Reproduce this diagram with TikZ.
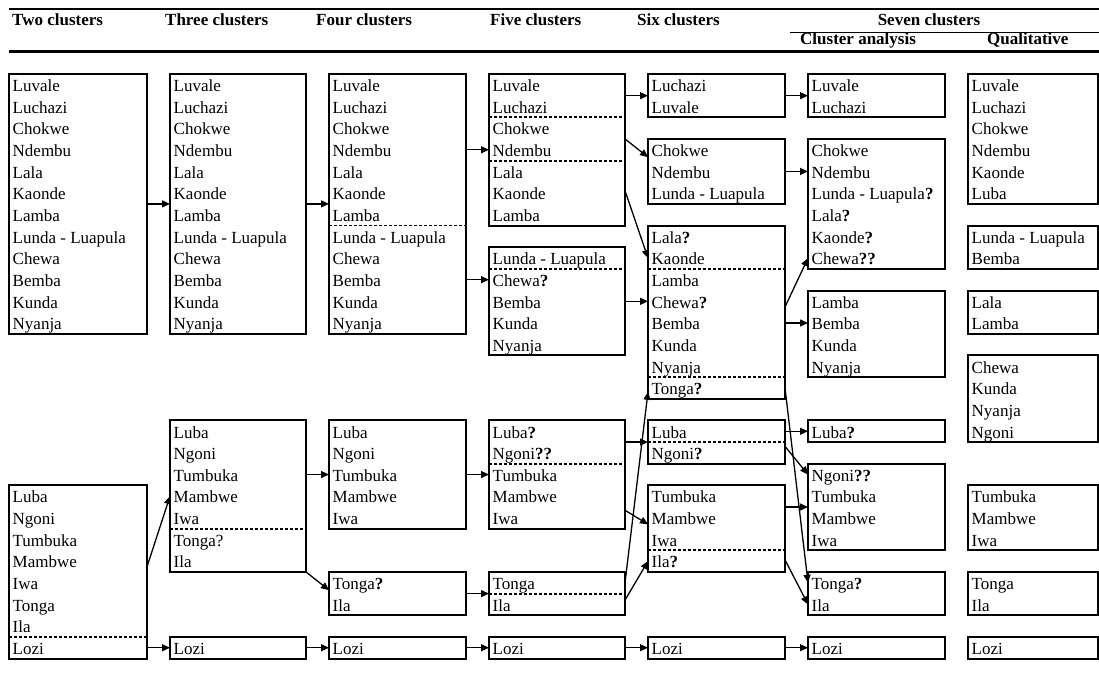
\documentclass[tikz,border=0pt]{standalone}
\usepackage{fontspec}
\setmainfont{Liberation Serif}
\usetikzlibrary{arrows.meta,calc}
\tikzset{
  cbox/.style={draw, line width=2pt, rectangle, inner sep=0pt, outer sep=0pt},
  lbl/.style={anchor=base west, inner sep=0pt, font=\fontsize{17}{20}\selectfont},
  sepline/.style={line width=1.8pt, dash pattern=on 3pt off 2pt},
  arr/.style={line width=1.3pt, -{Triangle[length=8pt,width=7pt]}},
  hdr/.style={inner sep=0pt, font=\fontsize{17}{20}\selectfont\bfseries},
  hrule/.style={line width=2pt},
}
\newcommand\RH{21.65}
\newcommand\qm{\textbf{?}}
\newcommand\mkbox[6]{%
  \node[cbox, minimum width=#3pt, minimum height={\RH pt*#5}, anchor=north west] (#1) at (#2,{74+\RH*#4}) {};
  \foreach \t [count=\i from 0] in {#6}{%
    \coordinate (#1r\i) at (#2,{74+\RH*(#4+\i+0.5)});
    \node[lbl] (#1t\i) at ({#2+3.5},{74+\RH*(#4+\i+0.5)+6.8}) {\t};
  }}
\newcommand\mkdash[2]{\draw[sepline] ($(#1.north west)+(0,{\RH*#2})$) -- ($(#1.north east)+(0,{\RH*#2})$);}
\begin{document}
\begin{tikzpicture}[x=1pt,y=-1pt]
\useasboundingbox (0,0) rectangle (1099,677);
% header
\draw[hrule] (9,9.5) -- (1099,9.5);
\draw[line width=2.5pt] (9,51.5) -- (1099,51.5);
\draw[line width=1.5pt] (790,32.5) -- (1099,32.5);
\node[hdr, anchor=base west] (h2) at (12,26) {Two clusters};
\node[hdr, anchor=base west] (h3) at (165,26) {Three clusters};
\node[hdr, anchor=base west] (h4) at (316,26) {Four clusters};
\node[hdr, anchor=base west] (h5) at (490,26) {Five clusters};
\node[hdr, anchor=base west] (h6) at (637,26) {Six clusters};
\node[hdr, anchor=base] (h7) at (929,26) {Seven clusters};
\node[hdr, anchor=base west] (h7a) at (800,44.5) {Cluster analysis};
\node[hdr, anchor=base west] (h7b) at (987,44.5) {Qualitative};
% column 1
\mkbox{A1}{9}{138}{0}{12}{Luvale,Luchazi,Chokwe,Ndembu,Lala,Kaonde,Lamba,Lunda - Luapula,Chewa,Bemba,Kunda,Nyanja}
\mkbox{A2}{9}{138}{19}{8}{Luba,Ngoni,Tumbuka,Mambwe,Iwa,Tonga,Ila,Lozi}
\mkdash{A2}{7}
% column 2
\mkbox{B1}{170}{136}{0}{12}{Luvale,Luchazi,Chokwe,Ndembu,Lala,Kaonde,Lamba,Lunda - Luapula,Chewa,Bemba,Kunda,Nyanja}
\mkbox{B2}{170}{136}{16}{7}{Luba,Ngoni,Tumbuka,Mambwe,Iwa,Tonga?,Ila}
\mkdash{B2}{5}
\mkbox{B3}{170}{136}{26}{1}{Lozi}
% column 3
\mkbox{C1}{329}{137}{0}{12}{Luvale,Luchazi,Chokwe,Ndembu,Lala,Kaonde,Lamba,Lunda - Luapula,Chewa,Bemba,Kunda,Nyanja}
\mkdash{C1}{7}
\mkbox{C2}{329}{137}{16}{5}{Luba,Ngoni,Tumbuka,Mambwe,Iwa}
\mkbox{C3}{329}{137}{23}{2}{Tonga\qm,Ila}
\mkbox{C4}{329}{137}{26}{1}{Lozi}
% column 4
\mkbox{D1}{489}{136}{0}{7}{Luvale,Luchazi,Chokwe,Ndembu,Lala,Kaonde,Lamba}
\mkdash{D1}{2}
\mkdash{D1}{4}
\mkbox{D2}{489}{136}{8}{5}{Lunda - Luapula,Chewa\qm,Bemba,Kunda,Nyanja}
\mkdash{D2}{1}
\mkbox{D3}{489}{136}{16}{5}{Luba\qm,Ngoni\qm\qm,Tumbuka,Mambwe,Iwa}
\mkdash{D3}{2}
\mkbox{D4}{489}{136}{23}{2}{Tonga,Ila}
\mkdash{D4}{1}
\mkbox{D5}{489}{136}{26}{1}{Lozi}
% column 5
\mkbox{E1}{648}{137}{0}{2}{Luchazi,Luvale}
\mkbox{E2}{648}{137}{3}{3}{Chokwe,Ndembu,Lunda - Luapula}
\mkbox{E3}{648}{137}{7}{8}{Lala\qm,Kaonde,Lamba,Chewa\qm,Bemba,Kunda,Nyanja,Tonga\qm}
\mkdash{E3}{2}
\mkdash{E3}{7}
\mkbox{E4}{648}{137}{16}{2}{Luba,Ngoni\qm}
\mkdash{E4}{1}
\mkbox{E5}{648}{137}{19}{4}{Tumbuka,Mambwe,Iwa,Ila\qm}
\mkdash{E5}{3}
\mkbox{E6}{648}{137}{26}{1}{Lozi}
% column 6
\mkbox{F1}{808}{137}{0}{2}{Luvale,Luchazi}
\mkbox{F2}{808}{137}{3}{6}{Chokwe,Ndembu,Lunda - Luapula\qm,Lala\qm,Kaonde\qm,Chewa\qm\qm}
\mkbox{F3}{808}{137}{10}{4}{Lamba,Bemba,Kunda,Nyanja}
\mkbox{F4}{808}{137}{16}{1}{Luba\qm}
\mkbox{F5}{808}{137}{18}{4}{Ngoni\qm\qm,Tumbuka,Mambwe,Iwa}
\mkbox{F6}{808}{137}{23}{2}{Tonga\qm,Ila}
\mkbox{F7}{808}{137}{26}{1}{Lozi}
% column 7
\mkbox{G1}{968}{130}{0}{6}{Luvale,Luchazi,Chokwe,Ndembu,Kaonde,Luba}
\mkbox{G2}{968}{130}{7}{2}{Lunda - Luapula,Bemba}
\mkbox{G3}{968}{130}{10}{2}{Lala,Lamba}
\mkbox{G4}{968}{130}{13}{4}{Chewa,Kunda,Nyanja,Ngoni}
\mkbox{G5}{968}{130}{19}{3}{Tumbuka,Mambwe,Iwa}
\mkbox{G6}{968}{130}{23}{2}{Tonga,Ila}
\mkbox{G7}{968}{130}{26}{1}{Lozi}
% arrows A -> B
\draw[arr] (A1.east) -- (B1.west);
\draw[arr] ($(A2.north east)!0.47!(A2.south east)$) -- (B2r3);
\draw[arr] (A2.east |- B3.west) -- (B3.west);
% B -> C
\draw[arr] (B1.east) -- (C1.west);
\draw[arr] (B2.east |- C2r2) -- (C2r2);
\draw[arr] (B2.south east) -- ($(C3.north west)!0.42!(C3.south west)$);
\draw[arr] (B3.east) -- (C4.west);
% C -> D
\draw[arr] (C1.east |- D1r3) -- (D1r3);
\draw[arr] (C1.east |- D2r1) -- (D2r1);
\draw[arr] (C2.east |- D3r2) -- (D3r2);
\draw[arr] (C3.east) -- (D4.west);
\draw[arr] (C4.east) -- (D5.west);
% D -> E
\draw[arr] (D1.east |- E1.west) -- (E1.west);
\draw[arr] (D1.east |- E2.north) -- ($(E2.north west)!0.28!(E2.south west)$);
\draw[arr] ($(D1.north east)!0.77!(D1.south east)$) -- (E3r1);
\draw[arr] (D2.east |- E3r3) -- (E3r3);
\draw[arr] (D3.east |- E4.west) -- (E4.west);
\draw[arr] ($(D3.north east)!0.83!(D3.south east)$) -- ($(E5.north west)!0.45!(E5.south west)$);
\draw[arr] (D4.east |- D4r0) -- ($(E3.north west)!0.96!(E3.south west)$);
\draw[arr] ($(D4.north east)!0.65!(D4.south east)$) -- (E5r3);
\draw[arr] (D5.east) -- (E6.west);
% E -> F
\draw[arr] (E1.east) -- (F1.west);
\draw[arr] (E2.east |- F2r1) -- (F2r1);
\draw[arr] ($(E3.north east)!0.47!(E3.south east)$) -- (F2r5);
\draw[arr] (E3.east |- F3r1) -- (F3r1);
\draw[arr] (E3.east |- E3r7) -- (F6r0);
\draw[arr] (E4.east |- F4.west) -- (F4.west);
\draw[arr] ($(E4.north east)!0.6!(E4.south east)$) -- (F5r0);
\draw[arr] (E5.east |- F5.west) -- (F5.west);
\draw[arr] ($(E5.north east)!0.86!(E5.south east)$) -- (F6r1);
\draw[arr] (E6.east) -- (F7.west);
\end{tikzpicture}
\end{document}
